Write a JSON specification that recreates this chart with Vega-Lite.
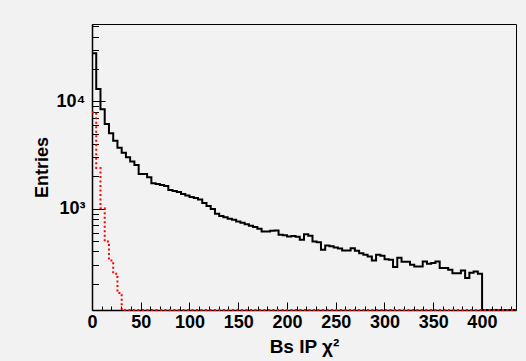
{
  "$schema": "https://vega.github.io/schema/vega-lite/v6.json",
  "autosize": {"type": "none"},
  "width": 424,
  "height": 286,
  "padding": {"left": 92, "top": 24, "right": 10, "bottom": 51},
  "background": "#f2f2f2",
  "config": {
    "view": {"stroke": "black", "strokeWidth": 1, "fill": "#f2f2f2"},
    "font": "Liberation Sans",
    "axis": {"grid": false, "domainColor": "black", "tickColor": "black", "domainWidth": 1, "tickWidth": 1, "labelColor": "black", "titleColor": "black", "labelFont": "Liberation Sans", "titleFont": "Liberation Sans", "labelFontWeight": "bold", "titleFontWeight": "bold", "labelFontSize": 18, "titleFontSize": 19, "labelFlush": false, "labelOverlap": false}
  },
  "data": {"values": [
    {"lo": 0, "all": 27960, "sig": 7867},
    {"lo": 4.35, "all": 13020, "sig": 2396},
    {"lo": 8.7, "all": 8425, "sig": 1011},
    {"lo": 13.05, "all": 6150, "sig": 494},
    {"lo": 17.4, "all": 5040, "sig": 329},
    {"lo": 21.75, "all": 4300, "sig": 248},
    {"lo": 26.1, "all": 3702, "sig": 164},
    {"lo": 30.45, "all": 3325, "sig": 0},
    {"lo": 34.8, "all": 3014, "sig": 0},
    {"lo": 39.15, "all": 2743, "sig": 0},
    {"lo": 43.5, "all": 2555, "sig": 0},
    {"lo": 47.85, "all": 2107, "sig": 0},
    {"lo": 52.2, "all": 2107, "sig": 0},
    {"lo": 56.55, "all": 1963, "sig": 0},
    {"lo": 60.9, "all": 1727, "sig": 0},
    {"lo": 65.25, "all": 1701, "sig": 0},
    {"lo": 69.6, "all": 1665, "sig": 0},
    {"lo": 73.95, "all": 1630, "sig": 0},
    {"lo": 78.3, "all": 1496, "sig": 0},
    {"lo": 82.65, "all": 1464, "sig": 0},
    {"lo": 87, "all": 1433, "sig": 0},
    {"lo": 91.35, "all": 1373, "sig": 0},
    {"lo": 95.7, "all": 1330, "sig": 0},
    {"lo": 100.05, "all": 1288, "sig": 0},
    {"lo": 104.4, "all": 1260, "sig": 0},
    {"lo": 108.75, "all": 1220, "sig": 0},
    {"lo": 113.1, "all": 1132, "sig": 0},
    {"lo": 117.45, "all": 1062, "sig": 0},
    {"lo": 121.8, "all": 996, "sig": 0},
    {"lo": 126.15, "all": 895, "sig": 0},
    {"lo": 130.5, "all": 857, "sig": 0},
    {"lo": 134.85, "all": 834, "sig": 0},
    {"lo": 139.2, "all": 804, "sig": 0},
    {"lo": 143.55, "all": 787, "sig": 0},
    {"lo": 147.9, "all": 759, "sig": 0},
    {"lo": 152.25, "all": 738, "sig": 0},
    {"lo": 156.6, "all": 715, "sig": 0},
    {"lo": 160.95, "all": 692, "sig": 0},
    {"lo": 165.3, "all": 677, "sig": 0},
    {"lo": 169.65, "all": 649, "sig": 0},
    {"lo": 174, "all": 612, "sig": 0},
    {"lo": 178.35, "all": 612, "sig": 0},
    {"lo": 182.7, "all": 622, "sig": 0},
    {"lo": 187.05, "all": 626, "sig": 0},
    {"lo": 191.4, "all": 571, "sig": 0},
    {"lo": 195.75, "all": 565, "sig": 0},
    {"lo": 200.1, "all": 552, "sig": 0},
    {"lo": 204.45, "all": 558, "sig": 0},
    {"lo": 208.8, "all": 547, "sig": 0},
    {"lo": 213.15, "all": 513, "sig": 0},
    {"lo": 217.5, "all": 579, "sig": 0},
    {"lo": 221.85, "all": 560, "sig": 0},
    {"lo": 226.2, "all": 494, "sig": 0},
    {"lo": 230.55, "all": 486, "sig": 0},
    {"lo": 234.9, "all": 414, "sig": 0},
    {"lo": 239.25, "all": 454, "sig": 0},
    {"lo": 243.6, "all": 446, "sig": 0},
    {"lo": 247.95, "all": 435, "sig": 0},
    {"lo": 252.3, "all": 427, "sig": 0},
    {"lo": 256.65, "all": 408, "sig": 0},
    {"lo": 261, "all": 409, "sig": 0},
    {"lo": 265.35, "all": 429, "sig": 0},
    {"lo": 269.7, "all": 405, "sig": 0},
    {"lo": 274.05, "all": 385, "sig": 0},
    {"lo": 278.4, "all": 372, "sig": 0},
    {"lo": 282.75, "all": 358, "sig": 0},
    {"lo": 287.1, "all": 329, "sig": 0},
    {"lo": 291.45, "all": 372, "sig": 0},
    {"lo": 295.8, "all": 364, "sig": 0},
    {"lo": 300.15, "all": 339, "sig": 0},
    {"lo": 304.5, "all": 334, "sig": 0},
    {"lo": 308.85, "all": 286, "sig": 0},
    {"lo": 313.2, "all": 349, "sig": 0},
    {"lo": 317.55, "all": 320, "sig": 0},
    {"lo": 321.9, "all": 320, "sig": 0},
    {"lo": 326.25, "all": 300, "sig": 0},
    {"lo": 330.6, "all": 289, "sig": 0},
    {"lo": 334.95, "all": 289, "sig": 0},
    {"lo": 339.3, "all": 322, "sig": 0},
    {"lo": 343.65, "all": 307, "sig": 0},
    {"lo": 348, "all": 313, "sig": 0},
    {"lo": 352.35, "all": 322, "sig": 0},
    {"lo": 356.7, "all": 281, "sig": 0},
    {"lo": 361.05, "all": 281, "sig": 0},
    {"lo": 365.4, "all": 270, "sig": 0},
    {"lo": 369.75, "all": 251, "sig": 0},
    {"lo": 374.1, "all": 251, "sig": 0},
    {"lo": 378.45, "all": 266, "sig": 0},
    {"lo": 382.8, "all": 226, "sig": 0},
    {"lo": 387.15, "all": 254, "sig": 0},
    {"lo": 391.5, "all": 260, "sig": 0},
    {"lo": 395.85, "all": 248, "sig": 0},
    {"lo": 400.2, "all": 0, "sig": 0},
    {"lo": 404.55, "all": 0, "sig": 0},
    {"lo": 408.9, "all": 0, "sig": 0},
    {"lo": 413.25, "all": 0, "sig": 0},
    {"lo": 417.6, "all": 0, "sig": 0},
    {"lo": 421.95, "all": 0, "sig": 0},
    {"lo": 426.3, "all": 0, "sig": 0},
    {"lo": 430.65, "all": 0, "sig": 0},
    {"lo": 435, "all": 0, "sig": 0}
  ]},
  "resolve": {"axis": {"x": "independent", "y": "independent"}},
  "layer": [
    {
      "mark": {"type": "line", "interpolate": "step-after", "color": "black", "strokeWidth": 2, "invalid": "show"},
      "encoding": {
        "x": {"field": "lo", "type": "quantitative",
          "scale": {"domain": [0, 435], "nice": false, "zero": false},
          "axis": {"orient": "bottom", "values": [0, 50, 100, 150, 200, 250, 300, 350, 400], "tickSize": -8, "labelPadding": 11, "title": "Bs IP χ²", "titlePadding": 6, "domainWidth": 1.5}},
        "y": {"field": "all", "type": "quantitative",
          "scale": {"type": "log", "domain": [114, 52400], "nice": false, "clamp": true},
          "axis": {"orient": "left", "values": [1000, 10000], "tickSize": -13, "labelPadding": 20, "labelExpr": "datum.value == 1000 ? '10³' : '10⁴'", "title": "Entries", "titleFontSize": 18, "titlePadding": 5, "domainWidth": 1.5}}
      }
    },
    {
      "mark": {"type": "line", "interpolate": "step-after", "color": "#ff0000", "strokeWidth": 2, "strokeDash": [2, 2.5], "invalid": "show"},
      "encoding": {
        "x": {"field": "lo", "type": "quantitative",
          "axis": {"orient": "bottom", "values": [10, 20, 30, 40, 60, 70, 80, 90, 110, 120, 130, 140, 160, 170, 180, 190, 210, 220, 230, 240, 260, 270, 280, 290, 310, 320, 330, 340, 360, 370, 380, 390, 410, 420, 430], "tickSize": -4, "labels": false, "domain": false, "title": null}},
        "y": {"field": "sig", "type": "quantitative",
          "axis": {"orient": "left", "values": [200, 300, 400, 500, 600, 700, 800, 900, 2000, 3000, 4000, 5000, 6000, 7000, 8000, 9000, 20000, 30000, 40000, 50000], "tickSize": -6.5, "labels": false, "domain": false, "title": null}}
      }
    }
  ]
}
